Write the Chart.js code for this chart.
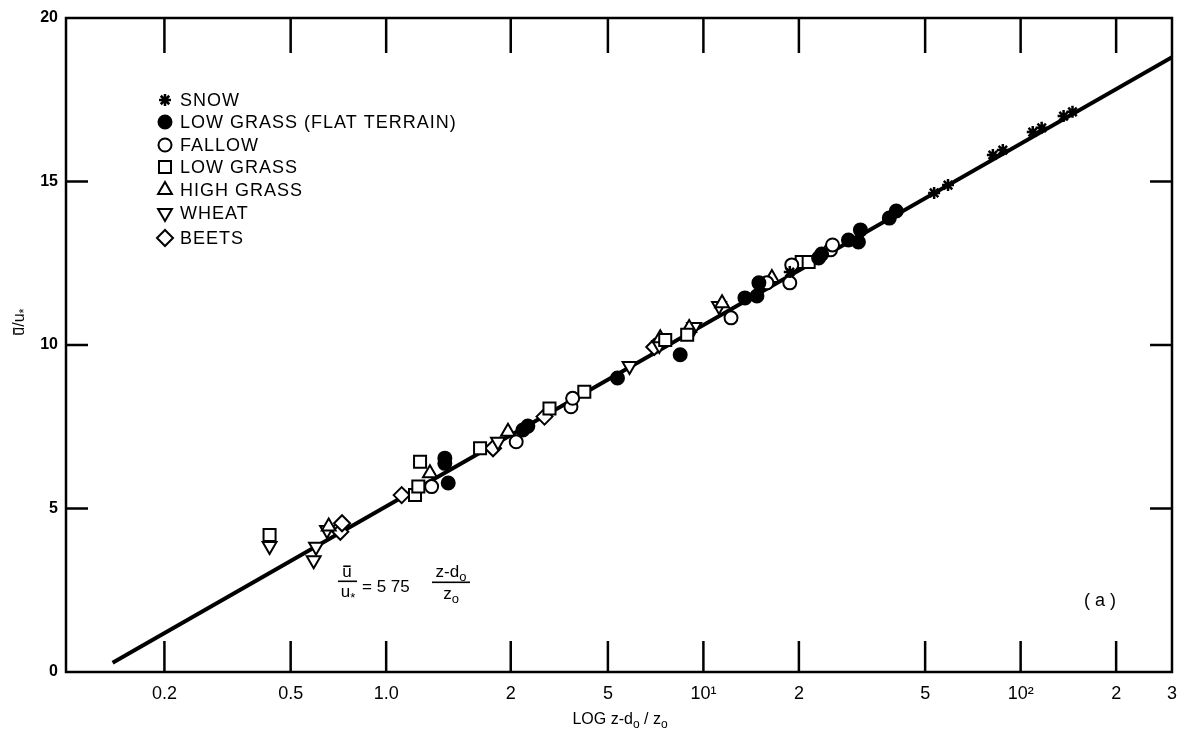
<!DOCTYPE html>
<html>
<head>
<meta charset="utf-8">
<script src="https://cdn.jsdelivr.net/npm/chart.js@4.4.1/dist/chart.umd.min.js"></script>
<style>
  html, body { margin: 0; padding: 0; background: #fff; }
  #wrap { width: 1188px; height: 730px; position: relative; }
</style>
</head>
<body>
<div id="wrap"><canvas id="myChart"></canvas></div>
<script>
// axis ticks (the printed "2" mark between 1.0 and 5 sits near 2.5 in the original)
var xTickValues = [0.2, 0.5, 1, 2.47, 5, 10, 20, 50, 100, 200, 300];
var xTickLabels = ['0.2', '0.5', '1.0', '2', '5', '10\u00B9', '2', '5', '10\u00B2', '2', '3'];
var yTickValues = [0, 5, 10, 15, 20];

// series, x = z-do/zo, y = u/u*
var snowX = [18.72, 53.37, 59.04, 81.75, 87.87, 109.2, 116.5, 136.6, 145.7];
var snowY = [12.23, 14.65, 14.89, 15.81, 15.96, 16.51, 16.64, 17.0, 17.13];

var flatX = [1.531, 1.531, 1.569, 2.698, 2.797, 5.36, 8.45, 13.52, 14.75, 14.96, 23.08, 23.59, 28.66, 30.81, 31.26, 38.55, 40.55];
var flatY = [6.54, 6.38, 5.78, 7.40, 7.52, 8.99, 9.7, 11.44, 11.50, 11.90, 12.66, 12.78, 13.21, 13.15, 13.52, 13.88, 14.10];

var fallowX = [1.391, 2.570, 3.824, 3.871, 12.22, 15.85, 18.72, 18.99, 25.17, 25.53];
var fallowY = [5.67, 7.04, 8.11, 8.37, 10.83, 11.90, 11.90, 12.45, 12.91, 13.06];

var lowGrassX = [0.429, 1.233, 1.263, 1.279, 1.977, 3.272, 4.213, 7.58, 8.89, 20.41, 21.47];
var lowGrassY = [4.19, 5.41, 5.67, 6.43, 6.84, 8.06, 8.57, 10.15, 10.31, 12.54, 12.54];

var highGrassX = [0.659, 1.374, 2.421, 7.31, 9.02, 11.45, 16.44];
var highGrassY = [4.45, 6.08, 7.35, 10.21, 10.52, 11.28, 12.05];

var wheatX = [0.429, 0.591, 0.601, 0.651, 2.252, 5.85, 7.26, 9.35, 11.20];
var wheatY = [3.85, 3.42, 3.83, 4.34, 7.04, 9.36, 10.0, 10.55, 11.19];

var beetsX = [0.717, 0.726, 1.119, 2.172, 3.156, 7.0];
var beetsY = [4.29, 4.55, 5.41, 6.84, 7.81, 9.94];

// fitted line end points
var fitX = [0.1373, 300];
var fitY = [0.28, 18.8];

var FONT = '"Liberation Sans", Arial, sans-serif';
var keyRowsY = [100, 122, 145, 167, 190, 213, 238];

function pts(xs, ys) {
  return xs.map(function (x, i) { return { x: x, y: ys[i] }; });
}

function markSet(label, xs, ys, style, radius, fill, rot) {
  return {
    label: label,
    data: pts(xs, ys),
    pointStyle: style,
    pointRadius: radius,
    pointHoverRadius: radius,
    pointRotation: rot || 0,
    pointBackgroundColor: fill,
    pointBorderColor: '#000',
    pointBorderWidth: style === 'star' ? 2.5 : 2,
    backgroundColor: fill,
    borderColor: '#000',
    showLine: false,
    order: 1
  };
}

function drawRuns(ctx, runs, x, y, align) {
  var total = 0;
  runs.forEach(function (r) {
    ctx.font = r.size + 'px ' + FONT;
    r.w = ctx.measureText(r.t).width;
    total += r.w;
  });
  var cx = align === 'center' ? x - total / 2 : x;
  ctx.textAlign = 'left';
  ctx.textBaseline = 'alphabetic';
  runs.forEach(function (r) {
    ctx.font = r.size + 'px ' + FONT;
    ctx.fillText(r.t, cx, y + (r.dy || 0));
    if (r.over) ctx.fillRect(cx + 1, y + (r.dy || 0) - r.size * 0.68, r.w - 2, 1.6);
    cx += r.w;
  });
}

// frame with inward ticks on all four sides
var frameTicks = {
  id: 'frameTicks',
  afterDatasetsDraw: function (chart) {
    var ctx = chart.ctx, a = chart.chartArea;
    var xs = chart.scales.x, ys = chart.scales.y;
    ctx.save();
    ctx.strokeStyle = '#000';
    ctx.lineWidth = 2.5;
    ctx.strokeRect(a.left, a.top, a.right - a.left, a.bottom - a.top);
    ctx.beginPath();
    xTickValues.forEach(function (v) {
      var px = xs.getPixelForValue(v);
      if (px >= a.right - 1) return;
      ctx.moveTo(px, a.bottom); ctx.lineTo(px, a.bottom - 31);
      ctx.moveTo(px, a.top); ctx.lineTo(px, a.top + 35);
    });
    yTickValues.forEach(function (v) {
      var py = ys.getPixelForValue(v);
      if (py <= a.top + 1 || py >= a.bottom - 1) return;
      ctx.moveTo(a.left, py); ctx.lineTo(a.left + 22, py);
      ctx.moveTo(a.right, py); ctx.lineTo(a.right - 22, py);
    });
    ctx.stroke();
    ctx.restore();
  }
};

// symbol key, titles, equation and panel letter
var notes = {
  id: 'notes',
  afterDraw: function (chart) {
    var ctx = chart.ctx;
    ctx.save();
    ctx.fillStyle = '#000';
    ctx.strokeStyle = '#000';

    // key
    var row = 0;
    chart.data.datasets.forEach(function (ds) {
      if (ds.showLine) return;
      var y = keyRowsY[row++];
      ctx.fillStyle = ds.pointBackgroundColor;
      ctx.lineWidth = ds.pointBorderWidth;
      Chart.helpers.drawPoint(ctx, {
        pointStyle: ds.pointStyle,
        radius: ds.pointRadius,
        rotation: ds.pointRotation,
        borderWidth: ds.pointBorderWidth
      }, 165, y);
      ctx.fillStyle = '#000';
      ctx.font = '18px ' + FONT;
      ctx.letterSpacing = '1px';
      ctx.textAlign = 'left';
      ctx.textBaseline = 'middle';
      ctx.fillText(ds.label, 180, y + 1);
      ctx.letterSpacing = '0px';
    });

    // x title
    drawRuns(ctx, [
      { t: 'LOG z-d', size: 16 }, { t: 'o', size: 12, dy: 4 },
      { t: ' / z', size: 16 }, { t: 'o', size: 12, dy: 4 }
    ], 620, 724, 'center');

    // y title
    ctx.save();
    ctx.translate(24, 322);
    ctx.rotate(-Math.PI / 2);
    drawRuns(ctx, [
      { t: 'u', size: 16, over: true }, { t: '/', size: 16 },
      { t: 'u', size: 16 }, { t: '*', size: 13, dy: 4 }
    ], 0, 0, 'center');
    ctx.restore();

    // equation
    drawRuns(ctx, [{ t: 'u', size: 17, over: true }], 347, 577, 'center');
    ctx.fillRect(338, 580.5, 19, 1.6);
    drawRuns(ctx, [{ t: 'u', size: 17 }, { t: '*', size: 13, dy: 5 }], 348, 597, 'center');
    drawRuns(ctx, [{ t: '= 5 75', size: 17 }], 362, 592, 'left');
    drawRuns(ctx, [{ t: 'z-d', size: 17 }, { t: 'o', size: 13, dy: 4 }], 451, 577, 'center');
    ctx.fillRect(432, 581.5, 38, 1.6);
    drawRuns(ctx, [{ t: 'z', size: 17 }, { t: 'o', size: 13, dy: 4 }], 451, 599, 'center');

    // panel letter
    drawRuns(ctx, [{ t: '( a )', size: 18 }], 1100, 606, 'center');
    ctx.restore();
  }
};

var datasets = [
  markSet('SNOW', snowX, snowY, 'star', 6, '#000'),
  markSet('LOW GRASS (FLAT TERRAIN)', flatX, flatY, 'circle', 6.5, '#000'),
  markSet('FALLOW', fallowX, fallowY, 'circle', 6.5, '#fff'),
  markSet('LOW GRASS', lowGrassX, lowGrassY, 'rect', 8.5, '#fff'),
  markSet('HIGH GRASS', highGrassX, highGrassY, 'triangle', 8, '#fff'),
  markSet('WHEAT', wheatX, wheatY, 'triangle', 8, '#fff', 180),
  markSet('BEETS', beetsX, beetsY, 'rectRot', 8, '#fff'),
  {
    label: 'fit',
    data: pts(fitX, fitY),
    showLine: true,
    borderColor: '#000',
    borderWidth: 4,
    pointRadius: 0,
    order: 10
  }
];

var ctx = document.getElementById('myChart').getContext('2d');
var chart = new Chart(ctx, {
  type: 'scatter',
  data: { datasets: datasets },
  options: {
    responsive: true,
    maintainAspectRatio: false,
    animation: false,
    events: [],
    layout: { padding: { top: 18, right: 10, left: 0, bottom: 0 } },
    plugins: { legend: { display: false }, tooltip: { enabled: false } },
    scales: {
      x: {
        type: 'logarithmic',
        min: 0.0979,
        max: 300,
        grid: { display: false, drawTicks: false },
        border: { display: false },
        afterBuildTicks: function (scale) {
          scale.ticks = xTickValues.map(function (v) { return { value: v }; });
        },
        afterFit: function (scale) { scale.height = 58; },
        ticks: {
          autoSkip: false,
          maxRotation: 0,
          padding: 11,
          color: '#000',
          font: { family: FONT, size: 18 },
          callback: function (value) {
            var i = xTickValues.indexOf(value);
            return i >= 0 ? xTickLabels[i] : '';
          }
        }
      },
      y: {
        min: 0,
        max: 20,
        grid: { display: false, drawTicks: false },
        border: { display: false },
        afterBuildTicks: function (scale) {
          scale.ticks = yTickValues.map(function (v) { return { value: v }; });
        },
        afterFit: function (scale) { scale.width = 66; },
        ticks: {
          padding: 8,
          color: '#000',
          font: { family: FONT, size: 16, weight: 'bold' }
        }
      }
    }
  },
  plugins: [frameTicks, notes]
});
</script>
</body>
</html>
